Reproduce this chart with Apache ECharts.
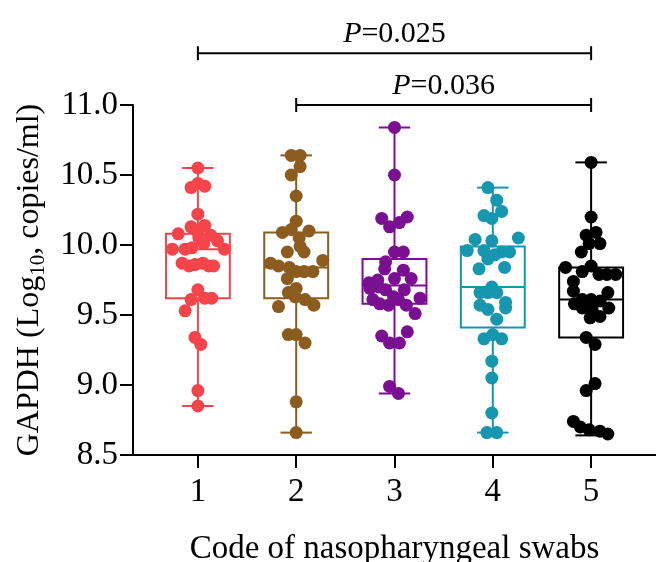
<!DOCTYPE html>
<html>
<head>
<meta charset="utf-8">
<script src="https://cdn.jsdelivr.net/npm/echarts@6/dist/echarts.min.js"></script>
<style>
html, body { margin: 0; padding: 0; background: #fff; }
#chart { width: 656px; height: 562px; }
</style>
</head>
<body>
<div id="chart"></div>
<script>
const FONT = "'Liberation Serif', 'Times New Roman', serif"

const groups = [1, 2, 3, 4, 5]
const colors = ['#F5444A', '#8C5C1E', '#7A0F92', '#1796B0', '#000000']

// box stats per swab code
const boxMin = [8.85, 8.66, 8.94, 8.66, 8.64]
const boxQ1 = [9.62, 9.62, 9.58, 9.41, 9.34]
const boxMedian = [9.97, 9.84, 9.71, 9.70, 9.61]
const boxQ3 = [10.08, 10.09, 9.90, 9.99, 9.84]
const boxMax = [10.55, 10.64, 10.84, 10.41, 10.59]

// individual swabs: [x (code + spread), log10 copies/ml]
const swab1 = [
  [1.00, 10.55], [0.93, 10.41], [1.00, 10.44], [1.07, 10.42], [1.00, 10.22],
  [0.93, 10.13], [1.07, 10.14], [1.00, 10.09], [0.80, 10.08], [1.13, 10.07],
  [1.01, 10.05], [1.06, 10.01], [1.20, 10.03], [0.74, 9.97], [0.87, 9.97],
  [0.94, 9.98], [1.27, 9.97], [0.84, 9.87], [0.91, 9.85], [0.97, 9.86],
  [1.05, 9.87], [1.11, 9.85], [1.16, 9.85], [1.00, 9.68], [0.93, 9.61],
  [1.07, 9.62], [1.14, 9.62], [0.87, 9.53], [0.97, 9.34], [1.03, 9.29],
  [1.00, 8.96], [1.00, 8.85]
]
const swab2 = [
  [1.95, 10.64], [2.04, 10.64], [2.04, 10.56], [1.95, 10.50], [2.00, 10.35],
  [2.00, 10.17], [1.86, 10.09], [1.95, 10.11], [2.13, 10.10], [2.03, 10.05],
  [2.04, 9.99], [1.91, 9.95], [2.08, 9.95], [1.74, 9.87], [1.82, 9.85],
  [1.93, 9.84], [2.00, 9.81], [2.08, 9.81], [2.17, 9.81], [2.27, 9.89],
  [1.91, 9.76], [2.00, 9.69], [1.92, 9.66], [1.99, 9.63], [2.09, 9.61],
  [2.18, 9.57], [1.82, 9.56], [1.92, 9.36], [2.00, 9.36], [2.09, 9.30],
  [2.00, 8.88], [2.00, 8.66]
]
const swab3 = [
  [3.00, 10.84], [3.00, 10.50], [2.87, 10.19], [2.95, 10.13], [3.05, 10.16],
  [3.13, 10.20], [3.00, 9.95], [3.09, 9.95], [2.91, 9.88], [2.90, 9.83],
  [3.09, 9.82], [3.00, 9.76], [3.17, 9.76], [2.74, 9.73], [2.83, 9.75],
  [2.75, 9.69], [2.91, 9.68], [3.10, 9.68], [2.84, 9.70], [2.99, 9.63],
  [2.78, 9.61], [2.85, 9.58], [2.94, 9.57], [3.04, 9.61], [3.12, 9.57],
  [3.26, 9.62], [3.21, 9.51], [2.87, 9.35], [2.95, 9.30], [3.05, 9.30],
  [3.13, 9.38], [2.95, 8.99], [3.04, 8.94]
]
const swab4 = [
  [3.95, 10.41], [4.04, 10.32], [3.91, 10.21], [3.99, 10.19], [4.09, 10.24],
  [3.82, 10.04], [3.99, 10.03], [4.26, 10.05], [3.74, 9.96], [3.91, 9.96],
  [4.02, 9.93], [4.09, 9.95], [4.17, 9.95], [3.95, 9.90], [3.86, 9.83],
  [4.12, 9.84], [3.99, 9.70], [3.87, 9.66], [3.95, 9.66], [4.04, 9.66],
  [3.87, 9.57], [3.95, 9.54], [4.13, 9.59], [4.13, 9.55], [4.04, 9.47],
  [3.91, 9.33], [4.00, 9.36], [4.09, 9.33], [3.99, 9.17], [3.99, 9.05],
  [3.99, 8.80], [3.94, 8.66], [4.04, 8.66]
]
const swab5 = [
  [5.00, 10.59], [5.00, 10.20], [4.95, 10.07], [5.05, 10.09], [5.09, 10.01],
  [4.98, 10.01], [4.90, 9.95], [4.74, 9.84], [4.91, 9.81], [5.00, 9.85],
  [5.08, 9.79], [5.16, 9.79], [5.25, 9.79], [4.82, 9.74], [4.82, 9.67],
  [5.17, 9.66], [4.83, 9.58], [4.91, 9.61], [5.00, 9.61], [5.09, 9.60],
  [4.91, 9.55], [5.01, 9.54], [5.18, 9.55], [4.99, 9.48], [5.09, 9.49],
  [4.95, 9.34], [5.04, 9.29], [5.04, 9.01], [4.95, 8.96], [4.82, 8.74],
  [4.89, 8.70], [4.98, 8.68], [5.09, 8.67], [5.17, 8.65]
]
const swabs = [swab1, swab2, swab3, swab4, swab5]

// significance brackets
const pairFrom = [1, 2]
const pairTo = [5, 5]
const pairLevel = [11.37, 11.0]
const pValues = ['0.025', '0.036']

const boxData = groups.map((g, i) => [g, boxMin[i], boxQ1[i], boxMedian[i], boxQ3[i], boxMax[i]])
const bracketData = pairFrom.map((f, i) => [f, pairTo[i], pairLevel[i], i])

function renderBox (params, api) {
  const x = api.value(0)
  const color = colors[params.dataIndex]
  const half = api.size([0.325, 0])[0]
  const cap = api.size([0.16, 0])[0]
  const pMin = api.coord([x, api.value(1)])
  const pQ1 = api.coord([x, api.value(2)])
  const pMed = api.coord([x, api.value(3)])
  const pQ3 = api.coord([x, api.value(4)])
  const pMax = api.coord([x, api.value(5)])
  const st = { stroke: color, lineWidth: 2, fill: null }
  return {
    type: 'group',
    children: [
      { type: 'line', shape: { x1: pMin[0], y1: pMin[1], x2: pQ1[0], y2: pQ1[1] }, style: st },
      { type: 'line', shape: { x1: pQ3[0], y1: pQ3[1], x2: pMax[0], y2: pMax[1] }, style: st },
      { type: 'line', shape: { x1: pMin[0] - cap, y1: pMin[1], x2: pMin[0] + cap, y2: pMin[1] }, style: st },
      { type: 'line', shape: { x1: pMax[0] - cap, y1: pMax[1], x2: pMax[0] + cap, y2: pMax[1] }, style: st },
      { type: 'rect', shape: { x: pQ3[0] - half, y: pQ3[1], width: half * 2, height: pQ1[1] - pQ3[1] }, style: st },
      { type: 'line', shape: { x1: pMed[0] - half, y1: pMed[1], x2: pMed[0] + half, y2: pMed[1] }, style: st }
    ]
  }
}

function renderBracket (params, api) {
  const p1 = api.coord([api.value(0), api.value(2)])
  const p2 = api.coord([api.value(1), api.value(2)])
  const st = { stroke: '#000', lineWidth: 2 }
  return {
    type: 'group',
    children: [
      { type: 'line', shape: { x1: p1[0], y1: p1[1], x2: p2[0], y2: p2[1] }, style: st },
      { type: 'line', shape: { x1: p1[0], y1: p1[1] - 7, x2: p1[0], y2: p1[1] + 7 }, style: st },
      { type: 'line', shape: { x1: p2[0], y1: p2[1] - 7, x2: p2[0], y2: p2[1] + 7 }, style: st },
      {
        type: 'text',
        x: (p1[0] + p2[0]) / 2,
        y: p1[1] - 4,
        style: {
          text: '{i|P}=' + pValues[api.value(3)],
          align: 'center',
          verticalAlign: 'bottom',
          fontSize: 30,
          fontFamily: FONT,
          fill: '#000',
          rich: {
            i: { fontSize: 30, fontFamily: FONT, fontStyle: 'italic', fill: '#000' }
          }
        }
      }
    ]
  }
}

const chart = echarts.init(document.getElementById('chart'))
chart.setOption({
  animation: false,
  backgroundColor: '#fff',
  grid: { left: 133, right: 0, top: 105, bottom: 107, outerBoundsMode: 'none' },
  xAxis: {
    type: 'value',
    min: 0.34,
    max: 5.66,
    splitLine: { show: false },
    axisLine: { lineStyle: { color: '#000', width: 2 } },
    axisTick: { customValues: groups, length: 13, lineStyle: { color: '#000', width: 2 } },
    axisLabel: { customValues: groups, margin: 21, fontSize: 33, fontFamily: FONT, color: '#000' },
    name: 'Code of nasopharyngeal swabs',
    nameLocation: 'middle',
    nameGap: 78,
    nameTextStyle: { fontSize: 33, fontFamily: FONT, color: '#000' }
  },
  yAxis: {
    type: 'value',
    min: 8.5,
    max: 11,
    interval: 0.5,
    splitLine: { show: false },
    axisLine: { show: true, lineStyle: { color: '#000', width: 2 } },
    axisTick: { show: true, length: 13, lineStyle: { color: '#000', width: 2 } },
    axisLabel: {
      margin: 15,
      fontSize: 33,
      fontFamily: FONT,
      color: '#000',
      formatter: v => v.toFixed(1)
    },
    name: '{a|GAPDH (Log}{s|10}{a|, copies/ml)}',
    nameLocation: 'middle',
    nameGap: 82,
    nameTextStyle: {
      color: '#000',
      fontFamily: FONT,
      fontSize: 32,
      rich: {
        a: { fontSize: 32, fontFamily: FONT, color: '#000', lineHeight: 40, verticalAlign: 'middle' },
        s: { fontSize: 21, fontFamily: FONT, color: '#000', lineHeight: 20, verticalAlign: 'bottom' }
      }
    }
  },
  series: [
    {
      type: 'custom',
      name: 'box',
      renderItem: renderBox,
      encode: { x: 0, y: [1, 2, 3, 4, 5] },
      data: boxData,
      z: 2
    },
    ...swabs.map((pts, i) => ({
      type: 'scatter',
      name: String(groups[i]),
      data: pts,
      symbol: 'circle',
      symbolSize: 13,
      itemStyle: { color: colors[i], opacity: 1 },
      z: 3
    })),
    {
      type: 'custom',
      name: 'brackets',
      renderItem: renderBracket,
      encode: { x: [0, 1], y: 2 },
      data: bracketData,
      clip: false,
      z: 4
    }
  ]
})
</script>
</body>
</html>
